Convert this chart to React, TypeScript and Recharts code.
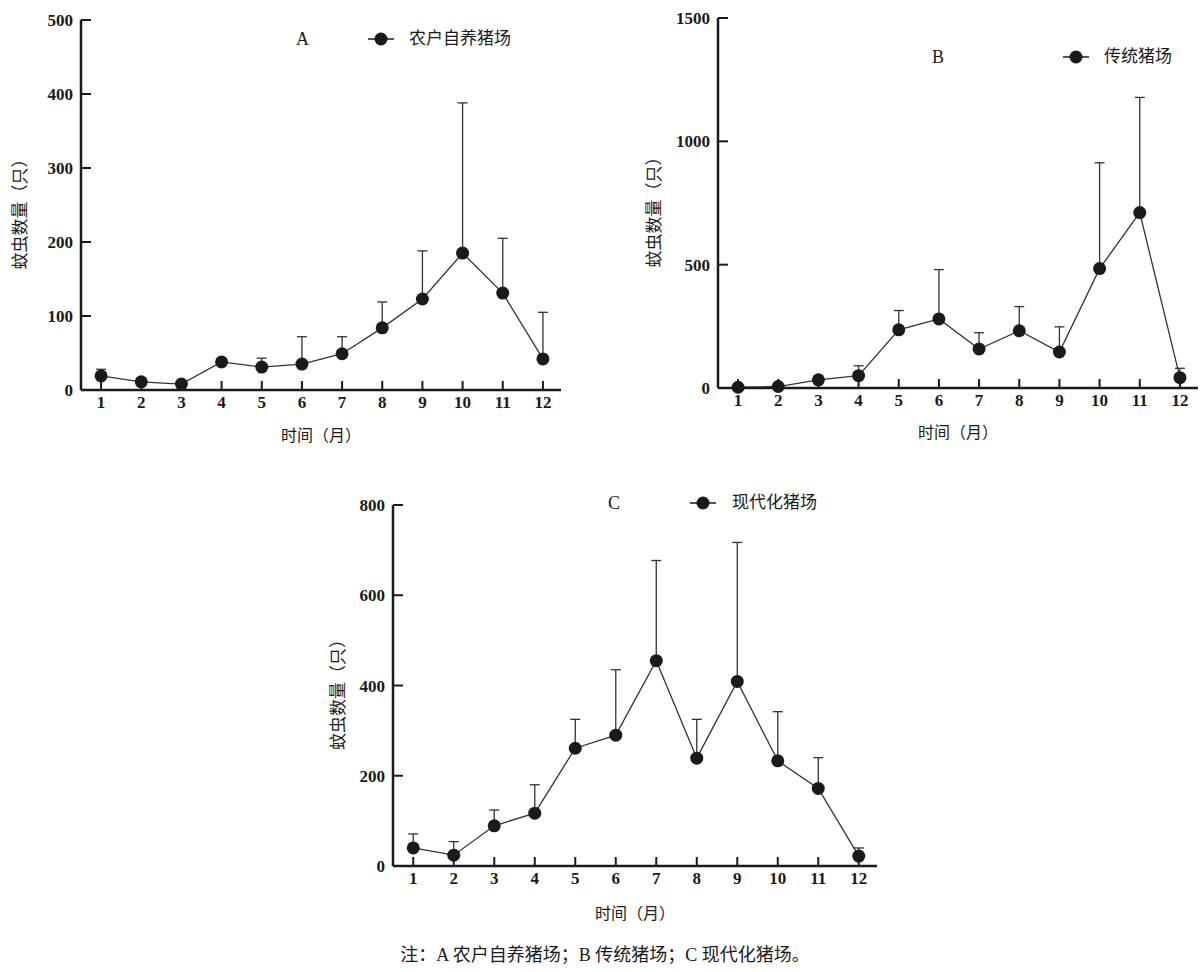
import React from "react";
import { ErrorBar, Legend, Line, LineChart, XAxis, YAxis } from "recharts";

const MONTHS = [1, 2, 3, 4, 5, 6, 7, 8, 9, 10, 11, 12];
const MONTH_TICKS = [1, 2, 3, 4, 5, 6, 7, 8, 9, 10, 11, 12];

// A 农户自养猪场
const FARM_A_MEAN = [19, 11, 8, 38, 31, 35, 49, 84, 123, 185, 131, 42];
const FARM_A_SD = [9, 0, 0, 0, 12, 37, 23, 35, 65, 203, 74, 63];
const FARM_A_TICKS = [0, 100, 200, 300, 400, 500];

// B 传统猪场
const FARM_B_MEAN = [3, 6, 33, 50, 236, 280, 158, 232, 146, 484, 711, 42];
const FARM_B_SD = [0, 0, 0, 40, 78, 200, 66, 98, 102, 429, 467, 38];
const FARM_B_TICKS = [0, 500, 1000, 1500];

// C 现代化猪场
const FARM_C_MEAN = [40, 24, 89, 117, 261, 290, 455, 239, 409, 233, 172, 22];
const FARM_C_SD = [31, 30, 35, 63, 64, 145, 222, 86, 308, 109, 68, 18];
const FARM_C_TICKS = [0, 200, 400, 600, 800];

const SERIF = '"Liberation Serif", "Times New Roman", serif';
const CJK = '"Liberation Serif", "Noto Sans CJK SC", sans-serif';
const INK = "#1a1a1a";

const buildRows = (mean: number[], sd: number[]) =>
  MONTHS.map((m, i) => ({ month: m, mean: mean[i], err: [0, sd[i]] }));

const xTitle = (dy: number) => (props: any) => {
  const vb = props.viewBox;
  return (
    <text
      x={vb.x + vb.width / 2}
      y={vb.y + dy}
      textAnchor="middle"
      dominantBaseline="central"
      fontFamily={CJK}
      fontSize={16}
      fill={INK}
    >
      时间（月）
    </text>
  );
};

const yTitle = (x: number) => (props: any) => {
  const vb = props.viewBox;
  const y = vb.y + vb.height / 2 + 5;
  return (
    <text
      x={x}
      y={y}
      transform={`rotate(-90 ${x} ${y})`}
      textAnchor="middle"
      dominantBaseline="central"
      fontFamily={CJK}
      fontSize={17}
      fill={INK}
    >
      蚊虫数量（只）
    </text>
  );
};

const legendContent = (letter: string, markerX: number, textX: number) => (props: any) => {
  const item = props.payload && props.payload[0];
  return (
    <div style={{ position: "relative", width: 260, height: 24 }}>
      <span
        style={{
          position: "absolute",
          left: 0,
          top: 0,
          lineHeight: "24px",
          fontFamily: SERIF,
          fontSize: 18,
          color: INK,
        }}
      >
        {letter}
      </span>
      <svg style={{ position: "absolute", left: markerX, top: 0 }} width={26} height={24}>
        <line x1={0} y1={12} x2={26} y2={12} stroke={INK} strokeWidth={1.5} />
        <circle cx={13} cy={12} r={6.5} fill={INK} />
      </svg>
      <span
        style={{
          position: "absolute",
          left: textX,
          top: 0,
          lineHeight: "24px",
          fontFamily: CJK,
          fontSize: 17,
          color: INK,
          whiteSpace: "nowrap",
        }}
      >
        {item ? item.value : ""}
      </span>
    </div>
  );
};

type PanelProps = {
  left: number;
  top: number;
  width: number;
  height: number;
  margin: { top: number; right: number; left: number; bottom: number };
  yAxisWidth: number;
  xAxisHeight: number;
  rows: any[];
  yTicks: number[];
  name: string;
  letter: string;
  legendPos: { left: number; top: number; markerX: number; textX: number };
  yTitleX: number;
  xTitleDy: number;
};

function Panel(p: PanelProps) {
  const yMax = p.yTicks[p.yTicks.length - 1];
  return (
    <div style={{ position: "absolute", left: p.left, top: p.top }}>
      <LineChart width={p.width} height={p.height} data={p.rows} margin={p.margin}>
        <XAxis
          dataKey="month"
          type="number"
          domain={[0.5, 12.45]}
          ticks={MONTH_TICKS}
          interval={0}
          height={p.xAxisHeight}
          axisLine={{ stroke: INK, strokeWidth: 2.5 }}
          tickLine={{ stroke: INK, strokeWidth: 2 }}
          tickSize={-9}
          tickMargin={15}
          tick={{ fill: INK, fontSize: 17, fontWeight: 700, fontFamily: SERIF }}
          label={xTitle(p.xTitleDy)}
        />
        <YAxis
          type="number"
          domain={[0, yMax]}
          ticks={p.yTicks}
          interval={0}
          width={p.yAxisWidth}
          axisLine={{ stroke: INK, strokeWidth: 2.5 }}
          tickLine={{ stroke: INK, strokeWidth: 2 }}
          tickSize={-10}
          tickMargin={18}
          tick={{ fill: INK, fontSize: 17, fontWeight: 700, fontFamily: SERIF }}
          label={yTitle(p.yTitleX)}
        />
        <Legend
          layout="horizontal"
          verticalAlign="middle"
          align="center"
          content={legendContent(p.letter, p.legendPos.markerX, p.legendPos.textX)}
          wrapperStyle={{ left: p.legendPos.left, top: p.legendPos.top, width: 260, height: 24 }}
        />
        <Line
          type="linear"
          dataKey="mean"
          name={p.name}
          stroke="#333"
          strokeWidth={1.3}
          dot={{ r: 6.5, fill: INK, stroke: INK, strokeWidth: 0 }}
          activeDot={false}
          isAnimationActive={false}
        >
          <ErrorBar dataKey="err" direction="y" width={5} stroke="#333" strokeWidth={1.3} />
        </Line>
      </LineChart>
    </div>
  );
}

export default function App() {
  return (
    <div
      style={{
        position: "absolute",
        left: 0,
        top: 0,
        width: 1203,
        height: 972,
        background: "#fff",
        overflow: "hidden",
      }}
    >
      <Panel
        left={0}
        top={0}
        width={580}
        height={450}
        margin={{ top: 20, right: 19, left: 0, bottom: 0 }}
        yAxisWidth={81}
        xAxisHeight={60}
        rows={buildRows(FARM_A_MEAN, FARM_A_SD)}
        yTicks={FARM_A_TICKS}
        name="农户自养猪场"
        letter="A"
        legendPos={{ left: 296, top: 27, markerX: 72, textX: 113 }}
        yTitleX={20}
        xTitleDy={45}
      />
      <Panel
        left={600}
        top={0}
        width={603}
        height={450}
        margin={{ top: 18, right: 5, left: 0, bottom: 0 }}
        yAxisWidth={118}
        xAxisHeight={62}
        rows={buildRows(FARM_B_MEAN, FARM_B_SD)}
        yTicks={FARM_B_TICKS}
        name="传统猪场"
        letter="B"
        legendPos={{ left: 332, top: 45, markerX: 131, textX: 172 }}
        yTitleX={54}
        xTitleDy={44}
      />
      <Panel
        left={300}
        top={480}
        width={600}
        height={460}
        margin={{ top: 25, right: 23, left: 0, bottom: 0 }}
        yAxisWidth={93}
        xAxisHeight={74}
        rows={buildRows(FARM_C_MEAN, FARM_C_SD)}
        yTicks={FARM_C_TICKS}
        name="现代化猪场"
        letter="C"
        legendPos={{ left: 308, top: 11, markerX: 82, textX: 124 }}
        yTitleX={38}
        xTitleDy={47}
      />
      <div
        style={{
          position: "absolute",
          left: 0,
          top: 943,
          width: 1210,
          textAlign: "center",
          fontFamily: CJK,
          fontSize: 18,
          lineHeight: "24px",
          color: INK,
          whiteSpace: "pre",
        }}
      >
        注：A 农户自养猪场；B 传统猪场；C 现代化猪场。
      </div>
    </div>
  );
}
